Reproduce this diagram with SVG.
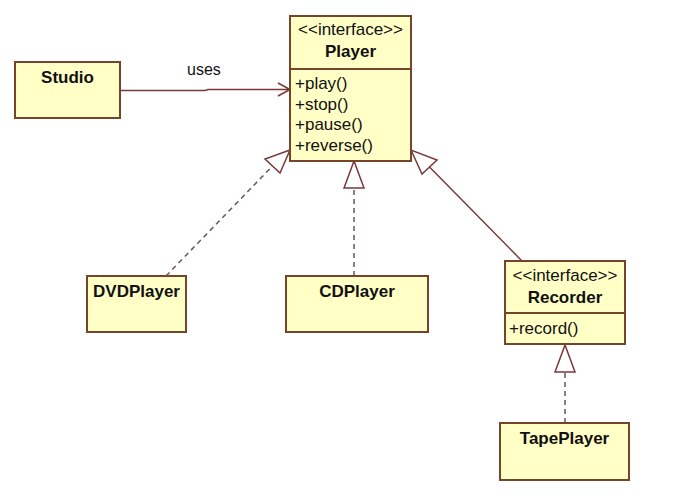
<svg xmlns="http://www.w3.org/2000/svg" width="688" height="498" viewBox="0 0 688 498">
  <style>
    .box { fill: #FFFFC6; stroke: #75442A; stroke-width: 2; }
    .div { stroke: #75442A; stroke-width: 2; fill: none; }
    .name { font-family: "Liberation Sans", Arial, sans-serif; font-size: 17px; font-weight: bold; fill: #111; text-anchor: middle; }
    .txt { font-family: "Liberation Sans", Arial, sans-serif; font-size: 17px; fill: #111; }
    .ster { text-anchor: middle; }
    .lbl { font-family: "Liberation Sans", Arial, sans-serif; font-size: 16px; fill: #111; }
    .solid { stroke: #7A3838; stroke-width: 1.5; fill: none; }
    .dash { stroke: #6A5555; stroke-width: 1.5; fill: none; stroke-dasharray: 5 4; }
    .head { fill: #fff; stroke: #7A3838; stroke-width: 1.5; stroke-linejoin: miter; }
  </style>
  <rect width="688" height="498" fill="#fff"/>

  <!-- connectors -->
  <g id="connectors">
    <!-- Studio uses Player -->
    <polyline class="solid" points="120,90.5 205,90.5 208,89.5 289,89.5"/>
    <polyline class="solid" points="278,83 290,89.5 278,96"/>
    <text class="lbl" x="187" y="75">uses</text>

    <!-- DVDPlayer realizes Player -->
    <line class="dash" x1="166" y1="276" x2="272.5" y2="166"/>
    <polygon class="head" points="290,150 265,159 280,173"/>

    <!-- CDPlayer realizes Player -->
    <line class="dash" x1="354" y1="276" x2="354" y2="188"/>
    <polygon class="head" points="354,161 344,188 364,188"/>

    <!-- Recorder extends Player -->
    <line class="solid" x1="522" y1="261" x2="429.5" y2="167"/>
    <polygon class="head" points="411,150 422,174 437,160"/>

    <!-- TapePlayer realizes Recorder -->
    <line class="dash" x1="565" y1="423" x2="565" y2="372"/>
    <polygon class="head" points="565,345 555,372 575,372"/>
  </g>

  <g id="studio">
    <rect class="box" x="15" y="62" width="105" height="56"/>
    <text class="name" x="67.5" y="83">Studio</text>
  </g>

  <g id="player">
    <rect class="box" x="290" y="16" width="121" height="145"/>
    <line class="div" x1="290" y1="69" x2="411" y2="69"/>
    <text class="txt ster" x="350.5" y="35">&lt;&lt;interface&gt;&gt;</text>
    <text class="name" x="350.5" y="57">Player</text>
    <text class="txt" x="295" y="89">+play()</text>
    <text class="txt" x="295" y="109.5">+stop()</text>
    <text class="txt" x="295" y="130">+pause()</text>
    <text class="txt" x="295" y="150.5">+reverse()</text>
  </g>

  <g id="dvdplayer">
    <rect class="box" x="87" y="276" width="99" height="56"/>
    <text class="name" x="136.5" y="297">DVDPlayer</text>
  </g>

  <g id="cdplayer">
    <rect class="box" x="286" y="276" width="142" height="56"/>
    <text class="name" x="357" y="297">CDPlayer</text>
  </g>

  <g id="recorder">
    <rect class="box" x="505" y="261" width="120" height="83"/>
    <line class="div" x1="505" y1="313" x2="625" y2="313"/>
    <text class="txt ster" x="565" y="281">&lt;&lt;interface&gt;&gt;</text>
    <text class="name" x="565" y="303">Recorder</text>
    <text class="txt" x="509" y="334">+record()</text>
  </g>

  <g id="tapeplayer">
    <rect class="box" x="500" y="423" width="129" height="57"/>
    <text class="name" x="564.5" y="444">TapePlayer</text>
  </g>
</svg>
